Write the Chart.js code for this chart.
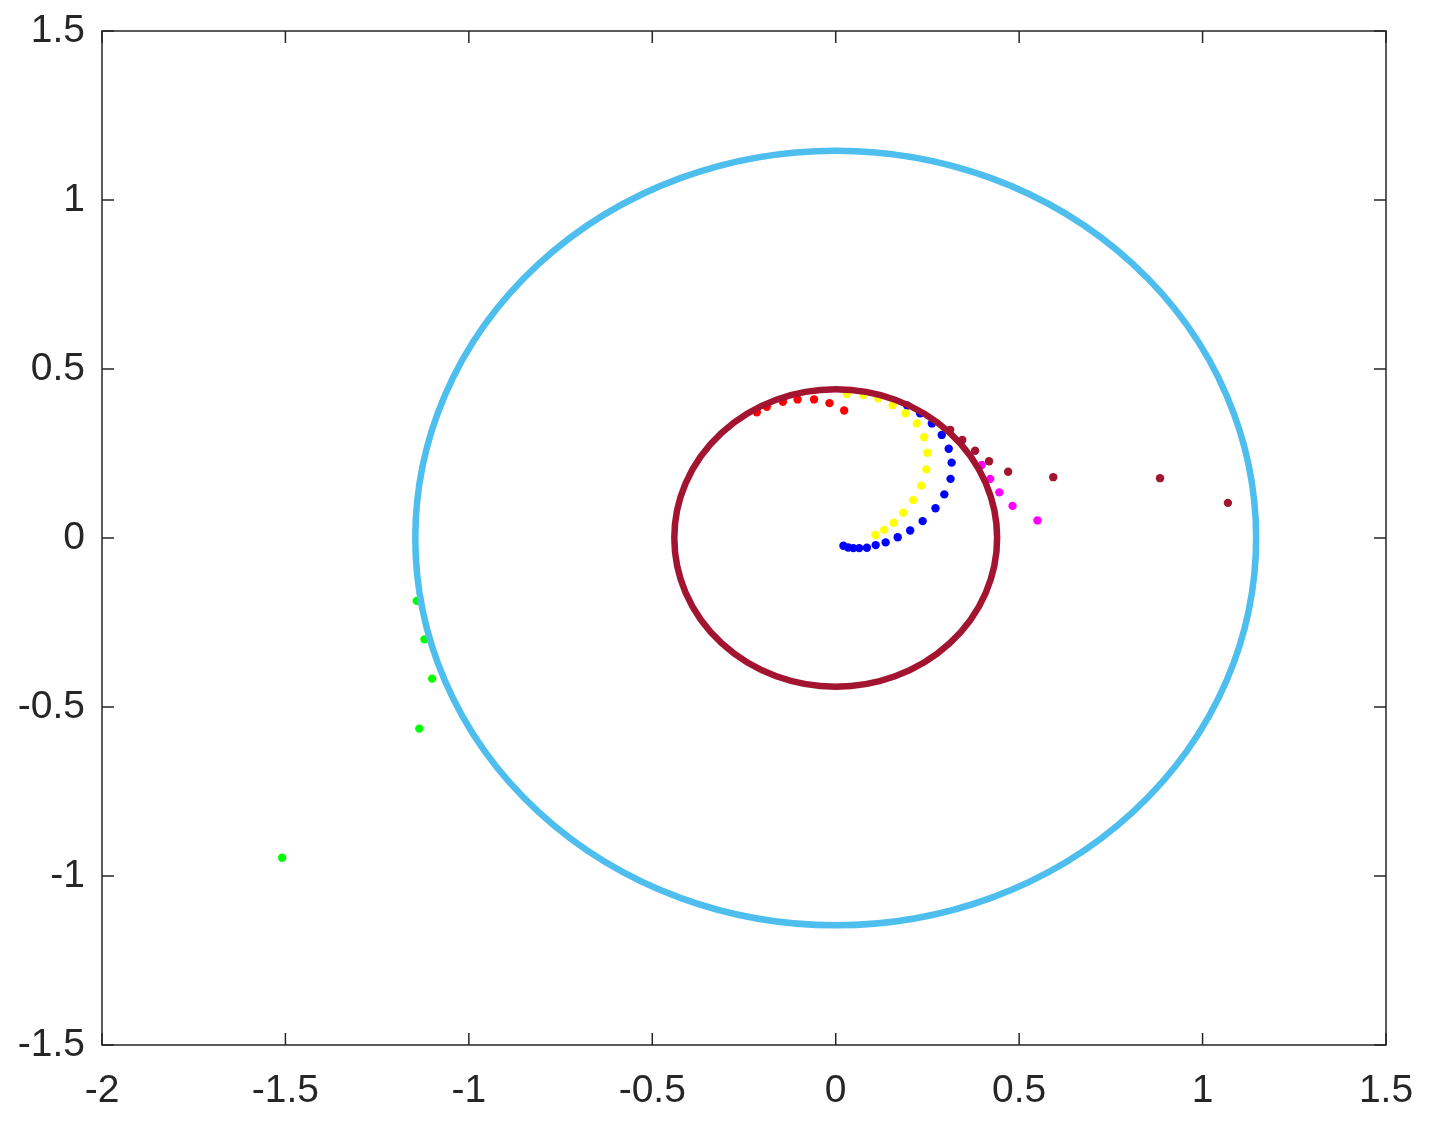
<!DOCTYPE html>
<html>
<head>
<meta charset="utf-8">
<script src="https://cdn.jsdelivr.net/npm/chart.js@4"></script>
<style>
  body { margin: 0; background: #fff; }
  #wrap { width: 1432px; height: 1134px; }
</style>
</head>
<body>
<div id="wrap"><canvas id="orbitChart"></canvas></div>
<script>
// axis ticks
var xTicks = [-2, -1.5, -1, -0.5, 0, 0.5, 1, 1.5];
var yTicks = [-1.5, -1, -0.5, 0, 0.5, 1, 1.5];

// the two circles (centre 0,0), radius in data units
var circleRadii = [1.146, 0.44];
var circleColors = ['#4DBEEE', '#A2142F'];

// scattered dots
var redX = [-0.215, -0.188, -0.144, -0.104, -0.059, -0.017, 0.023];
var redY = [0.372, 0.388, 0.403, 0.410, 0.410, 0.399, 0.377];

var yellowX = [0.030, 0.075, 0.116, 0.155, 0.190, 0.221, 0.241, 0.250, 0.247, 0.233, 0.211, 0.184, 0.158, 0.132, 0.108];
var yellowY = [0.426, 0.423, 0.413, 0.393, 0.369, 0.339, 0.298, 0.252, 0.203, 0.155, 0.112, 0.075, 0.045, 0.024, 0.009];

var blueX = [0.021, 0.034, 0.048, 0.064, 0.085, 0.109, 0.136, 0.169, 0.203, 0.237, 0.272, 0.296, 0.313, 0.316, 0.308, 0.289, 0.262, 0.230, 0.195];
var blueY = [-0.023, -0.028, -0.030, -0.030, -0.029, -0.021, -0.013, 0.002, 0.022, 0.050, 0.088, 0.129, 0.175, 0.223, 0.264, 0.305, 0.339, 0.369, 0.392];

var magentaX = [0.398, 0.421, 0.446, 0.482, 0.550];
var magentaY = [0.216, 0.175, 0.135, 0.095, 0.052];

var maroonX = [0.312, 0.345, 0.380, 0.418, 0.470, 0.593, 0.884, 1.069];
var maroonY = [0.320, 0.290, 0.258, 0.227, 0.196, 0.180, 0.177, 0.104];

var greenX = [-1.142, -1.121, -1.100, -1.135, -1.509];
var greenY = [-0.186, -0.300, -0.416, -0.564, -0.946];

function pts(xs, ys) {
    return xs.map(function (x, i) { return { x: x, y: ys[i] }; });
}

function dots(data, color) {
    return {
        data: data,
        backgroundColor: color,
        borderWidth: 0,
        pointRadius: 4.2,
        pointHoverRadius: 4.2
    };
}

var textColor = '#262626';

// circles on top of the dots, then the box with inward ticks
var framePlugin = {
    id: 'frame',
    afterDatasetsDraw: function (chart) {
        var ctx = chart.ctx, xs = chart.scales.x, ys = chart.scales.y;
        var cx = xs.getPixelForValue(0), cy = ys.getPixelForValue(0);
        ctx.save();
        ctx.lineWidth = 6.5;
        circleRadii.forEach(function (r, i) {
            var rx = xs.getPixelForValue(r) - cx;
            var ry = cy - ys.getPixelForValue(r);
            ctx.strokeStyle = circleColors[i];
            ctx.beginPath();
            ctx.ellipse(cx, cy, rx, ry, 0, 0, Math.PI * 2);
            ctx.stroke();
        });
        ctx.restore();
    },
    afterDraw: function (chart) {
        var ctx = chart.ctx, a = chart.chartArea;
        var xs = chart.scales.x, ys = chart.scales.y;
        var tl = 12;
        ctx.save();
        ctx.strokeStyle = textColor;
        ctx.lineWidth = 1.5;
        ctx.strokeRect(a.left, a.top, a.right - a.left, a.bottom - a.top);
        ctx.beginPath();
        xTicks.forEach(function (v) {
            var p = xs.getPixelForValue(v);
            ctx.moveTo(p, a.bottom); ctx.lineTo(p, a.bottom - tl);
            ctx.moveTo(p, a.top); ctx.lineTo(p, a.top + tl);
        });
        yTicks.forEach(function (v) {
            var p = ys.getPixelForValue(v);
            ctx.moveTo(a.left, p); ctx.lineTo(a.left + tl, p);
            ctx.moveTo(a.right, p); ctx.lineTo(a.right - tl, p);
        });
        ctx.stroke();
        ctx.restore();
    }
};

var tickFont = { family: "'Liberation Sans', Arial, sans-serif", size: 39 };

var ctx = document.getElementById('orbitChart').getContext('2d');
var orbitChart = new Chart(ctx, {
    type: 'scatter',
    data: {
        datasets: [
            dots(pts(redX, redY), '#FF0000'),
            dots(pts(yellowX, yellowY), '#FFFF00'),
            dots(pts(blueX, blueY), '#0000FF'),
            dots(pts(magentaX, magentaY), '#FF00FF'),
            dots(pts(maroonX, maroonY), '#A2142F'),
            dots(pts(greenX, greenY), '#00FF00')
        ]
    },
    options: {
        responsive: true,
        maintainAspectRatio: false,
        animation: false,
        layout: { padding: { top: 31, right: 46, left: 0, bottom: 0 } },
        plugins: { legend: { display: false }, tooltip: { enabled: false } },
        scales: {
            x: {
                type: 'linear',
                min: xTicks[0],
                max: xTicks[xTicks.length - 1],
                afterBuildTicks: function (s) { s.ticks = xTicks.map(function (v) { return { value: v }; }); },
                afterFit: function (s) { s.height = 89; s.paddingLeft = 0; s.paddingRight = 0; },
                grid: { display: false },
                border: { display: false },
                ticks: {
                    autoSkip: false,
                    maxRotation: 0,
                    padding: 15,
                    color: textColor,
                    font: tickFont,
                    callback: function (v) { return String(v); }
                }
            },
            y: {
                type: 'linear',
                min: yTicks[0],
                max: yTicks[yTicks.length - 1],
                afterBuildTicks: function (s) { s.ticks = yTicks.map(function (v) { return { value: v }; }); },
                afterFit: function (s) { s.width = 102; s.paddingTop = 0; s.paddingBottom = 0; },
                grid: { display: false },
                border: { display: false },
                ticks: {
                    autoSkip: false,
                    padding: 9,
                    color: textColor,
                    font: tickFont,
                    callback: function (v) { return String(v); }
                }
            }
        }
    },
    plugins: [framePlugin]
});
</script>
</body>
</html>
